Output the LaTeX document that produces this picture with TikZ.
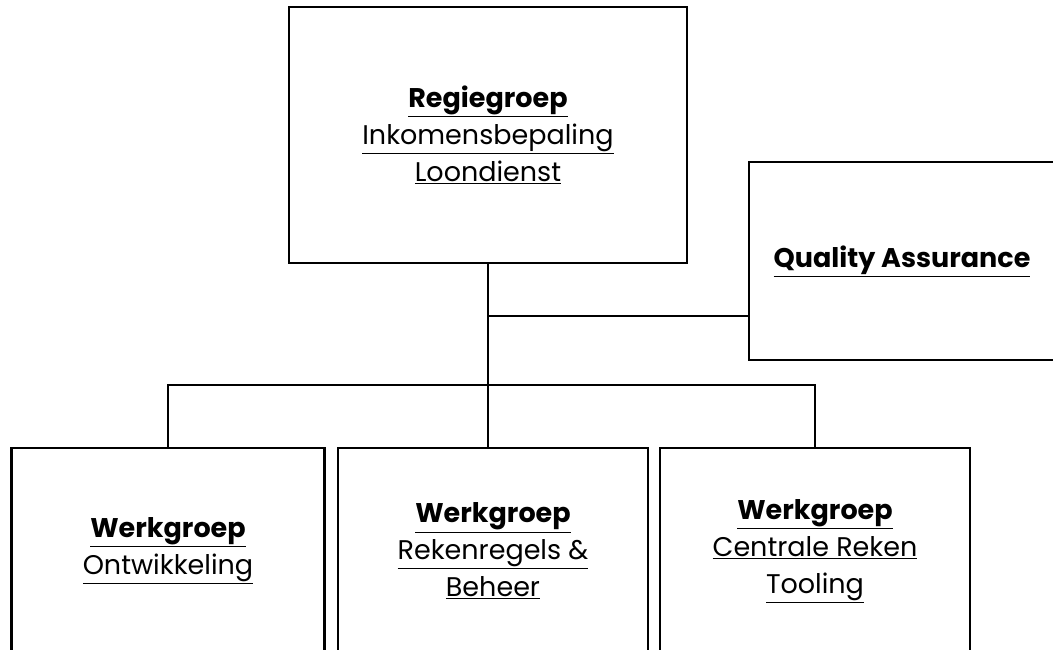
\documentclass[tikz,border=0pt]{standalone}
\usepackage{fontspec}
\setmainfont{Poppins}
\newcommand{\ulin}[1]{\underline{#1}}
\begin{document}
\begin{tikzpicture}[x=1pt,y=-1pt]
\tikzstyle{every node}+=[inner sep=0pt]
\tikzstyle{groupbox}=[draw=black, line width=2.2pt, align=center,
  font=\fontsize{27}{37}\selectfont]
\tikzstyle{link}=[draw=black, line width=2.2pt]
\useasboundingbox (0,0) rectangle (1053,649);
% top level
\node [groupbox, minimum width=398pt, minimum height=256pt] (regie) at (488,135)
  {\ulin{\textbf{Regiegroep}}\\ \ulin{Inkomensbepaling}\\ \ulin{Loondienst}};
\node [groupbox, minimum width=306pt, minimum height=198pt] (qa) at (902,261)
  {\ulin{\textbf{Quality Assurance}}};
% werkgroepen
\node [groupbox, minimum width=313pt, minimum height=206pt] (ontw) at (168,551)
  {\ulin{\textbf{Werkgroep}}\\ \ulin{Ontwikkeling}};
\node [groupbox, minimum width=310pt, minimum height=206pt] (reken) at (493,551)
  {\ulin{\textbf{Werkgroep}}\\ \ulin{Rekenregels \&}\\ \ulin{Beheer}};
\node [groupbox, minimum width=310pt, minimum height=206pt] (tool) at (815,551)
  {\ulin{\textbf{Werkgroep}}\\ \ulin{Centrale Reken}\\ \ulin{Tooling}};
% connectors
\coordinate (qajoin) at (regie.south |- 0,316);
\draw [link] (regie.south) -- (regie.south |- reken.north);
\draw [link] (qajoin) -- (qajoin -| qa.west);
\draw [link] (ontw.north) -- ++(0,-62) -| (tool.north);
\end{tikzpicture}
\end{document}
